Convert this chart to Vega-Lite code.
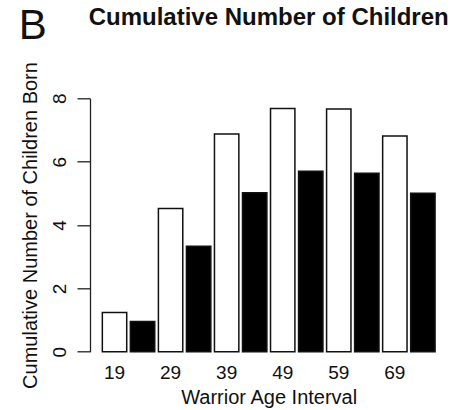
{
  "$schema": "https://vega.github.io/schema/vega-lite/v6.json",
  "width": 357.4,
  "height": 253.4,
  "autosize": {"type": "none"},
  "padding": {"left": 90, "top": 98.3, "right": 14.6, "bottom": 58.3},
  "background": "white",
  "title": {
    "text": "Cumulative Number of Children",
    "font": "Liberation Sans",
    "fontSize": 24,
    "fontWeight": "bold",
    "color": "#111111",
    "anchor": "middle",
    "frame": "group",
    "baseline": "alphabetic",
    "offset": -44.7
  },
  "config": {"view": {"stroke": null}, "font": "Liberation Sans"},
  "data": {
    "values": [
      {"age": 19, "group": "Group A", "value": 1.24},
      {"age": 19, "group": "Group B", "value": 0.95},
      {"age": 29, "group": "Group A", "value": 4.52},
      {"age": 29, "group": "Group B", "value": 3.33},
      {"age": 39, "group": "Group A", "value": 6.87},
      {"age": 39, "group": "Group B", "value": 5.02},
      {"age": 49, "group": "Group A", "value": 7.68},
      {"age": 49, "group": "Group B", "value": 5.70},
      {"age": 59, "group": "Group A", "value": 7.66},
      {"age": 59, "group": "Group B", "value": 5.63},
      {"age": 69, "group": "Group A", "value": 6.81},
      {"age": 69, "group": "Group B", "value": 5.00}
    ]
  },
  "layer": [
    {
      "mark": {"type": "bar", "stroke": "#111111", "strokeWidth": 1.5},
      "encoding": {
        "x": {
          "field": "age",
          "type": "ordinal",
          "scale": {"paddingInner": 0.065, "paddingOuter": 0.22},
          "axis": {
            "orient": "bottom",
            "domain": false,
            "ticks": false,
            "tickSize": 0,
            "labelPadding": 26.6,
            "labelBaseline": "alphabetic",
            "labelOffset": -14,
            "labelAngle": 0,
            "labelFontSize": 19,
            "labelColor": "#111111",
            "title": "Warrior Age Interval",
            "titleFontSize": 20,
            "titleFontWeight": "normal",
            "titleColor": "#111111",
            "titleBaseline": "alphabetic",
            "titleY": 51.6
          }
        },
        "xOffset": {
          "field": "group",
          "type": "nominal",
          "sort": ["Group A", "Group B"],
          "scale": {"paddingInner": 0.13, "paddingOuter": 0}
        },
        "y": {
          "field": "value",
          "type": "quantitative",
          "scale": {"domain": [0, 8], "nice": false},
          "axis": {
            "orient": "left",
            "values": [0, 2, 4, 6, 8],
            "grid": false,
            "domainColor": "#222222",
            "domainWidth": 1.3,
            "tickColor": "#222222",
            "tickWidth": 1.3,
            "tickSize": 13,
            "labelAngle": -90,
            "labelAlign": "center",
            "labelBaseline": "alphabetic",
            "labelPadding": 11.4,
            "labelFontSize": 19,
            "labelColor": "#111111",
            "labelFlush": false,
            "title": "Cumulative Number of Children Born",
            "titleFontSize": 20,
            "titleFontWeight": "normal",
            "titleColor": "#111111",
            "titleAngle": -90,
            "titleBaseline": "alphabetic",
            "titleX": -53.3
          }
        },
        "color": {
          "field": "group",
          "type": "nominal",
          "scale": {"domain": ["Group A", "Group B"], "range": ["white", "black"]},
          "legend": null
        }
      }
    },
    {
      "mark": {"type": "rule", "strokeOpacity": 0},
      "encoding": {
        "x": {
          "field": "age",
          "type": "ordinal",
          "axis": {
            "orient": "top",
            "domain": false,
            "ticks": false,
            "labels": false,
            "title": "B",
            "titleFontSize": 42,
            "titleFontWeight": "normal",
            "titleColor": "#111111",
            "titleAngle": 0,
            "titleAlign": "left",
            "titleBaseline": "alphabetic",
            "titleX": -71.7,
            "titleY": -60
          }
        }
      }
    }
  ],
  "resolve": {"axis": {"x": "independent"}}
}
